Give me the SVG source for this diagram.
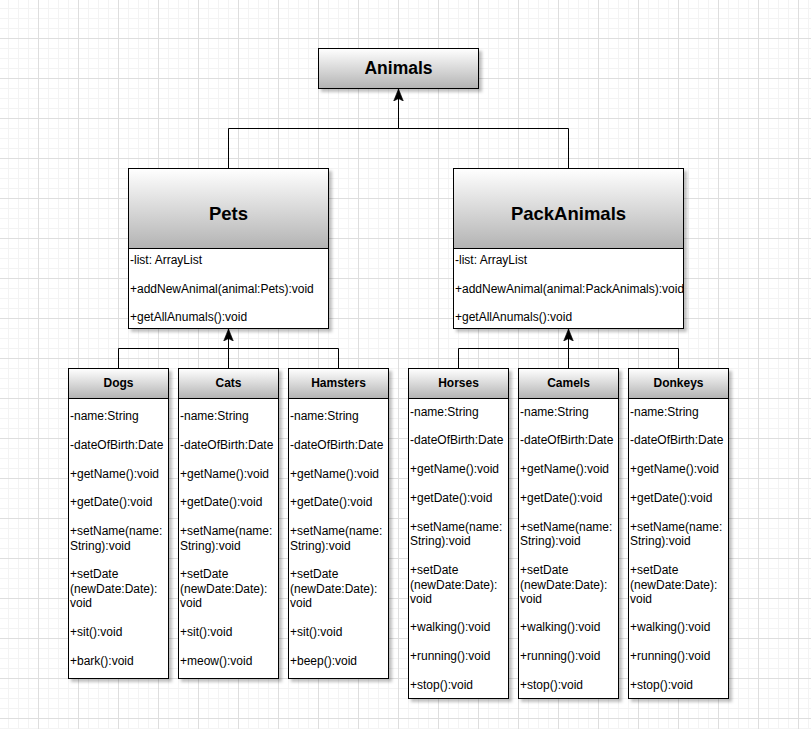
<svg xmlns="http://www.w3.org/2000/svg" width="811" height="729" viewBox="0 0 811 729">
<defs>
<pattern id="grid" patternUnits="userSpaceOnUse" x="-2" y="-2" width="40" height="40">
<path d="M10.5 0V40M20.5 0V40M30.5 0V40M0 10.5H40M0 20.5H40M0 30.5H40" stroke="#f3f3f3" stroke-width="1" fill="none"/>
<path d="M0.5 0V40M0 0.5H40" stroke="#dedede" stroke-width="1" fill="none"/>
</pattern>
<linearGradient id="hdr" x1="0" y1="0" x2="0" y2="1">
<stop offset="0" stop-color="#ffffff"/>
<stop offset="1" stop-color="#b3b3b3"/>
</linearGradient>
<filter id="sh" x="-10%" y="-10%" width="130%" height="130%">
<feDropShadow dx="3" dy="3" stdDeviation="1.5" flood-color="#000" flood-opacity="0.25"/>
</filter>
<marker id="arr" markerUnits="userSpaceOnUse" markerWidth="12" markerHeight="12" viewBox="0 0 10 10" refX="10" refY="5" orient="auto">
<path d="M10 5L0 1L2 5L0 9Z" fill="#000" stroke="#000" stroke-width="0.5"/>
</marker>
</defs>
<style>
.box{stroke:#000;stroke-width:1;}
.hd{fill:url(#hdr);}
.bd{fill:#fff;}
.t{font-family:"Liberation Sans",Arial,sans-serif;font-size:12px;fill:#000;}
.h{font-family:"Liberation Sans",Arial,sans-serif;font-size:12px;font-weight:bold;fill:#000;text-anchor:middle;}
.big{font-family:"Liberation Sans",Arial,sans-serif;font-weight:bold;fill:#000;text-anchor:middle;}
.c{fill:none;stroke:#000;stroke-width:1;}
</style>
<rect width="811" height="729" fill="#fff"/>
<rect width="811" height="729" fill="url(#grid)"/>

<g id="connectors">
<path class="c" d="M228.5 168.5V128.5H398.5V89" marker-end="url(#arr)"/>
<path class="c" d="M568.5 168.5V128.5H398.5V89"/>
<path class="c" d="M118.5 368.5V348.5H228.5V329" marker-end="url(#arr)"/>
<path class="c" d="M228.5 368.5V329"/>
<path class="c" d="M338.5 368.5V348.5H228.5"/>
<path class="c" d="M458.5 368.5V348.5H568.5V329" marker-end="url(#arr)"/>
<path class="c" d="M568.5 368.5V329"/>
<path class="c" d="M678.5 368.5V348.5H568.5"/>
</g>

<g id="animals">
<rect class="box hd" x="318.5" y="48.5" width="160" height="40" filter="url(#sh)"/>
<text class="big" x="398.5" y="74" font-size="17.5">Animals</text>
</g>

<g id="pets">
<g filter="url(#sh)">
<rect class="box bd" x="128.5" y="168.5" width="200" height="160"/>
<rect class="box hd" x="128.5" y="168.5" width="200" height="80"/>
</g>
<text class="big" x="228.5" y="220" font-size="18.5">Pets</text>
<text class="t" x="130" y="264">-list: ArrayList</text>
<text class="t" x="130" y="292.5">+addNewAnimal(animal:Pets):void</text>
<text class="t" x="130" y="321">+getAllAnumals():void</text>
</g>

<g id="packanimals">
<g filter="url(#sh)">
<rect class="box bd" x="453.5" y="168.5" width="230" height="160"/>
<rect class="box hd" x="453.5" y="168.5" width="230" height="80"/>
</g>
<text class="big" x="568.5" y="220" font-size="18.5">PackAnimals</text>
<text class="t" x="455" y="264">-list: ArrayList</text>
<text class="t" x="455" y="292.5">+addNewAnimal(animal:PackAnimals):void</text>
<text class="t" x="455" y="321">+getAllAnumals():void</text>
</g>

<g id="dogs">
<g filter="url(#sh)">
<rect class="box bd" x="68.5" y="368.5" width="100" height="310"/>
<rect class="box hd" x="68.5" y="368.5" width="100" height="30"/>
</g>
<text class="h" x="118.5" y="387">Dogs</text>
<text class="t" x="70" y="420">-name:String</text>
<text class="t" x="70" y="449">-dateOfBirth:Date</text>
<text class="t" x="70" y="478">+getName():void</text>
<text class="t" x="70" y="506">+getDate():void</text>
<text class="t" x="70" y="535">+setName(name:</text>
<text class="t" x="70" y="549.5">String):void</text>
<text class="t" x="70" y="578">+setDate</text>
<text class="t" x="70" y="592.5">(newDate:Date):</text>
<text class="t" x="70" y="607">void</text>
<text class="t" x="70" y="636">+sit():void</text>
<text class="t" x="70" y="665">+bark():void</text>
</g>

<g id="cats">
<g filter="url(#sh)">
<rect class="box bd" x="178.5" y="368.5" width="100" height="310"/>
<rect class="box hd" x="178.5" y="368.5" width="100" height="30"/>
</g>
<text class="h" x="228.5" y="387">Cats</text>
<text class="t" x="180" y="420">-name:String</text>
<text class="t" x="180" y="449">-dateOfBirth:Date</text>
<text class="t" x="180" y="478">+getName():void</text>
<text class="t" x="180" y="506">+getDate():void</text>
<text class="t" x="180" y="535">+setName(name:</text>
<text class="t" x="180" y="549.5">String):void</text>
<text class="t" x="180" y="578">+setDate</text>
<text class="t" x="180" y="592.5">(newDate:Date):</text>
<text class="t" x="180" y="607">void</text>
<text class="t" x="180" y="636">+sit():void</text>
<text class="t" x="180" y="665">+meow():void</text>
</g>

<g id="hamsters">
<g filter="url(#sh)">
<rect class="box bd" x="288.5" y="368.5" width="100" height="310"/>
<rect class="box hd" x="288.5" y="368.5" width="100" height="30"/>
</g>
<text class="h" x="338.5" y="387">Hamsters</text>
<text class="t" x="290" y="420">-name:String</text>
<text class="t" x="290" y="449">-dateOfBirth:Date</text>
<text class="t" x="290" y="478">+getName():void</text>
<text class="t" x="290" y="506">+getDate():void</text>
<text class="t" x="290" y="535">+setName(name:</text>
<text class="t" x="290" y="549.5">String):void</text>
<text class="t" x="290" y="578">+setDate</text>
<text class="t" x="290" y="592.5">(newDate:Date):</text>
<text class="t" x="290" y="607">void</text>
<text class="t" x="290" y="636">+sit():void</text>
<text class="t" x="290" y="665">+beep():void</text>
</g>

<g id="horses">
<g filter="url(#sh)">
<rect class="box bd" x="408.5" y="368.5" width="100" height="330"/>
<rect class="box hd" x="408.5" y="368.5" width="100" height="30"/>
</g>
<text class="h" x="458.5" y="387">Horses</text>
<text class="t" x="410" y="416">-name:String</text>
<text class="t" x="410" y="444">-dateOfBirth:Date</text>
<text class="t" x="410" y="473">+getName():void</text>
<text class="t" x="410" y="501.5">+getDate():void</text>
<text class="t" x="410" y="530.5">+setName(name:</text>
<text class="t" x="410" y="545">String):void</text>
<text class="t" x="410" y="574">+setDate</text>
<text class="t" x="410" y="588.5">(newDate:Date):</text>
<text class="t" x="410" y="603">void</text>
<text class="t" x="410" y="630.5">+walking():void</text>
<text class="t" x="410" y="659.5">+running():void</text>
<text class="t" x="410" y="689">+stop():void</text>
</g>

<g id="camels">
<g filter="url(#sh)">
<rect class="box bd" x="518.5" y="368.5" width="100" height="330"/>
<rect class="box hd" x="518.5" y="368.5" width="100" height="30"/>
</g>
<text class="h" x="568.5" y="387">Camels</text>
<text class="t" x="520" y="416">-name:String</text>
<text class="t" x="520" y="444">-dateOfBirth:Date</text>
<text class="t" x="520" y="473">+getName():void</text>
<text class="t" x="520" y="501.5">+getDate():void</text>
<text class="t" x="520" y="530.5">+setName(name:</text>
<text class="t" x="520" y="545">String):void</text>
<text class="t" x="520" y="574">+setDate</text>
<text class="t" x="520" y="588.5">(newDate:Date):</text>
<text class="t" x="520" y="603">void</text>
<text class="t" x="520" y="630.5">+walking():void</text>
<text class="t" x="520" y="659.5">+running():void</text>
<text class="t" x="520" y="689">+stop():void</text>
</g>

<g id="donkeys">
<g filter="url(#sh)">
<rect class="box bd" x="628.5" y="368.5" width="100" height="330"/>
<rect class="box hd" x="628.5" y="368.5" width="100" height="30"/>
</g>
<text class="h" x="678.5" y="387">Donkeys</text>
<text class="t" x="630" y="416">-name:String</text>
<text class="t" x="630" y="444">-dateOfBirth:Date</text>
<text class="t" x="630" y="473">+getName():void</text>
<text class="t" x="630" y="501.5">+getDate():void</text>
<text class="t" x="630" y="530.5">+setName(name:</text>
<text class="t" x="630" y="545">String):void</text>
<text class="t" x="630" y="574">+setDate</text>
<text class="t" x="630" y="588.5">(newDate:Date):</text>
<text class="t" x="630" y="603">void</text>
<text class="t" x="630" y="630.5">+walking():void</text>
<text class="t" x="630" y="659.5">+running():void</text>
<text class="t" x="630" y="689">+stop():void</text>
</g>
</svg>
